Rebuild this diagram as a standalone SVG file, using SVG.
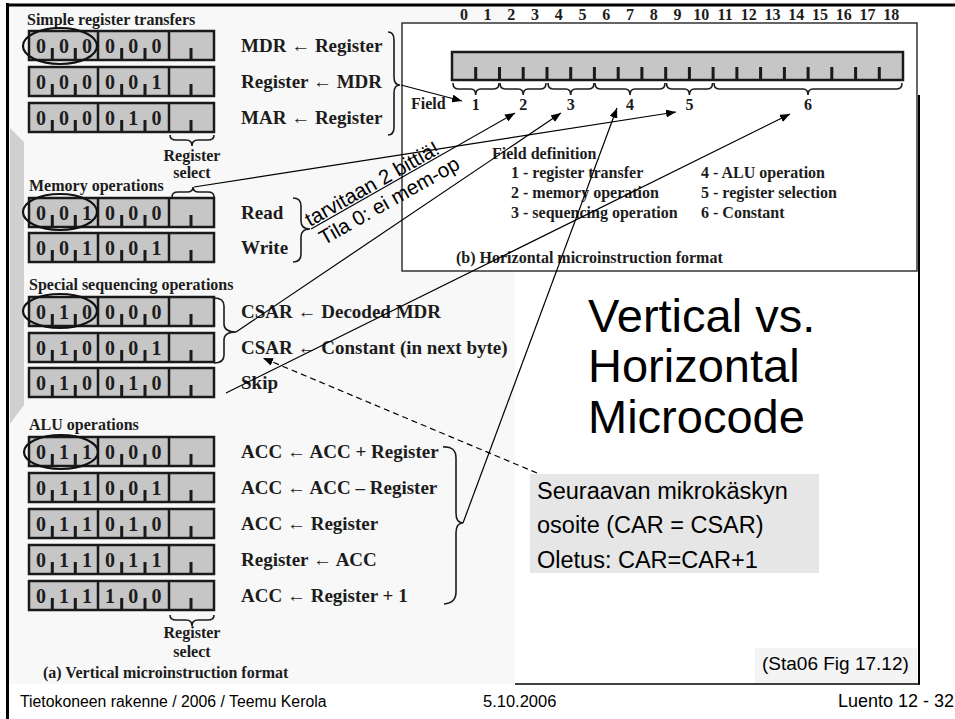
<svg xmlns="http://www.w3.org/2000/svg" width="955" height="719" viewBox="0 0 955 719">
<style>
.s{font-family:"Liberation Serif","Times New Roman",serif;font-weight:bold;fill:#1c1c1c}
.t{font-size:16px}
.d{font-size:20px;text-anchor:middle}
.l{font-size:19px}
.n{font-size:16px;text-anchor:middle}
.ss{font-family:"Liberation Sans",Arial,sans-serif;fill:#000}
.br{fill:none;stroke:#1c1c1c;stroke-width:1.6}
.el{fill:none;stroke:#111;stroke-width:2.2}
.cn{fill:none;stroke:#000;stroke-width:1.2}
</style>
<defs>
<marker id="ah" viewBox="0 0 10 8" refX="10" refY="4" markerWidth="10" markerHeight="8" markerUnits="userSpaceOnUse" orient="auto"><path d="M0,0 L10,4 L0,8 z" fill="#000"/></marker>
<g id="rf">
<rect x="29" y="0" width="185" height="29" fill="#c6c6c6" stroke="#1a1a1a" stroke-width="2.5"/>
<path d="M98,0V29M169,0V29" stroke="#1a1a1a" stroke-width="2.5"/>
<path d="M52.3,29V17M75.3,29V17M121.7,29V17M145,29V17M191,29V17" stroke="#1a1a1a" stroke-width="3"/>
</g>
</defs>
<rect width="955" height="719" fill="#fff"/>
<rect x="9" y="6" width="506" height="678" fill="#f8f8f8"/>
<polygon points="10,128 24,142 24,405 10,424" fill="#d0d0d0"/>
<rect x="755" y="648" width="162" height="35" fill="#f4f4f4"/>

<g id="frame" fill="none" stroke="#000">
<line x1="6" y1="5" x2="955" y2="5" stroke-width="3"/>
<line x1="7.5" y1="3" x2="7.5" y2="719" stroke-width="3"/>
<line x1="919" y1="95" x2="919" y2="684.5" stroke-width="2"/>
<line x1="515" y1="684" x2="920" y2="684" stroke-width="1.5"/>
</g>

<g id="horizontal-format">
<rect x="402" y="23" width="515" height="248" fill="#fff" stroke="#333" stroke-width="1.5"/>
<text class="s n" y="20" x="463.9 487.6 511.3 535.1 558.8 582.6 606.3 630.1 653.8">012345678</text>
<text class="s n" y="20" x="677.6">9</text>
<text class="s n" y="20" x="701.3">10</text>
<text class="s n" y="20" x="725.1">11</text>
<text class="s n" y="20" x="748.8">12</text>
<text class="s n" y="20" x="772.5">13</text>
<text class="s n" y="20" x="796.3">14</text>
<text class="s n" y="20" x="820">15</text>
<text class="s n" y="20" x="843.8">16</text>
<text class="s n" y="20" x="867.5">17</text>
<text class="s n" y="20" x="891.3">18</text>
<rect x="452" y="52" width="451" height="28" fill="#c6c6c6" stroke="#1a1a1a" stroke-width="2.5"/>
<path d="M475.7,80V67M499.5,80V67M523.2,80V67M547,80V67M570.7,80V67M594.4,80V67M618.2,80V67M641.9,80V67M665.7,80V67M689.4,80V67M713.1,80V67M736.9,80V67M760.6,80V67M784.4,80V67M808.1,80V67M831.8,80V67M855.6,80V67M879.3,80V67" stroke="#1a1a1a" stroke-width="3"/>
<path class="br" d="M453,83 Q453,89 458,89 L470.7,89 Q475.7,89 475.7,95 Q475.7,89 480.7,89 L494,89 Q499,89 499,83"/>
<path class="br" d="M500,83 Q500,89 505,89 L518.2,89 Q523.2,89 523.2,95 Q523.2,89 528.2,89 L541,89 Q546,89 546,83"/>
<path class="br" d="M548,83 Q548,89 553,89 L565.7,89 Q570.7,89 570.7,95 Q570.7,89 575.7,89 L589,89 Q594,89 594,83"/>
<path class="br" d="M595,83 Q595,89 600,89 L625,89 Q630,89 630,95 Q630,89 635,89 L660,89 Q665,89 665,83"/>
<path class="br" d="M666.5,83 Q666.5,89 671.5,89 L684.4,89 Q689.4,89 689.4,95 Q689.4,89 694.4,89 L707.5,89 Q712.5,89 712.5,83"/>
<path class="br" d="M714,83 Q714,89 719,89 L803,89 Q808,89 808,95 Q808,89 813,89 L897,89 Q902,89 902,83"/>
<text class="s t" x="411" y="109">Field</text>
<text class="s n" y="110" x="475.7 523.2 570.7 630 689.4 808">123456</text>
<text class="s t" x="492" y="159">Field definition</text>
<text class="s t" x="511" y="178">1 - register transfer</text>
<text class="s t" x="511" y="198">2 - memory operation</text>
<text class="s t" x="511" y="218">3 - sequencing operation</text>
<text class="s t" x="701" y="178">4 - ALU operation</text>
<text class="s t" x="701" y="198">5 - register selection</text>
<text class="s t" x="701" y="218">6 - Constant</text>
<text class="s t" x="456" y="263">(b) Horizontal microinstruction format</text>
</g>

<g id="simple-transfers">
<text class="s t" x="27" y="25">Simple register transfers</text>
<g transform="translate(0,31)"><use href="#rf"/><text class="s d" y="22" x="41 64 87 110 133.3 156.5">000000</text><text class="s l" x="241" y="21">MDR ← Register</text></g>
<g transform="translate(0,67)"><use href="#rf"/><text class="s d" y="22" x="41 64 87 110 133.3 156.5">000001</text><text class="s l" x="241" y="21">Register ← MDR</text></g>
<g transform="translate(0,103)"><use href="#rf"/><text class="s d" y="22" x="41 64 87 110 133.3 156.5">000010</text><text class="s l" x="241" y="21">MAR ← Register</text></g>
<ellipse class="el" cx="60" cy="46" rx="37" ry="18"/>
<path class="br" d="M388,32 Q394,32 394,40 L394,77 Q394,85 400,85 Q394,85 394,93 L394,127 Q394,135 388,135"/>
<path class="br" d="M170,135 Q170,140 176,140 L186,140 Q192,140 192,146 Q192,140 198,140 L208,140 Q214,140 214,135"/>
<text class="s t" x="192" y="161" text-anchor="middle">Register</text>
<text class="s t" x="192" y="178" text-anchor="middle">select</text>
</g>

<g id="memory-operations">
<text class="s t" x="29" y="191">Memory operations</text>
<path class="br" d="M172,197 Q172,192 178,192 L187,192 Q193,192 193,187 Q193,192 199,192 L208,192 Q214,192 214,197"/>
<g transform="translate(0,198)"><use href="#rf"/><text class="s d" y="22" x="41 64 87 110 133.3 156.5">001000</text><text class="s l" x="241" y="21">Read</text></g>
<g transform="translate(0,233)"><use href="#rf"/><text class="s d" y="22" x="41 64 87 110 133.3 156.5">001001</text><text class="s l" x="241" y="21">Write</text></g>
<ellipse class="el" cx="60" cy="212" rx="37" ry="18"/>
<path class="br" d="M293,198 Q301,198 301,206 L301,221 Q301,229 310,229 Q301,229 301,237 L301,254 Q301,262 293,262"/>
</g>

<g id="sequencing-operations">
<text class="s t" x="29" y="290">Special sequencing operations</text>
<g transform="translate(0,297)"><use href="#rf"/><text class="s d" y="22" x="41 64 87 110 133.3 156.5">010000</text><text class="s l" x="241" y="21">CSAR ← Decoded MDR</text></g>
<g transform="translate(0,333)"><use href="#rf"/><text class="s d" y="22" x="41 64 87 110 133.3 156.5">010001</text><text class="s l" x="241" y="21">CSAR ← Constant (in next byte)</text></g>
<g transform="translate(0,368)"><use href="#rf"/><text class="s d" y="22" x="41 64 87 110 133.3 156.5">010010</text><text class="s l" x="241" y="21">Skip</text></g>
<ellipse class="el" cx="60" cy="311" rx="37" ry="17"/>
<path class="br" d="M214,298 Q224,298 224,306 L224,324 Q224,332 236,332 Q224,332 224,340 L224,355 Q224,363 214,363"/>
</g>

<g id="alu-operations">
<text class="s t" x="29" y="430">ALU operations</text>
<g transform="translate(0,437)"><use href="#rf"/><text class="s d" y="22" x="41 64 87 110 133.3 156.5">011000</text><text class="s l" x="241" y="21">ACC ← ACC + Register</text></g>
<g transform="translate(0,473)"><use href="#rf"/><text class="s d" y="22" x="41 64 87 110 133.3 156.5">011001</text><text class="s l" x="241" y="21">ACC ← ACC – Register</text></g>
<g transform="translate(0,509)"><use href="#rf"/><text class="s d" y="22" x="41 64 87 110 133.3 156.5">011010</text><text class="s l" x="241" y="21">ACC ← Register</text></g>
<g transform="translate(0,545)"><use href="#rf"/><text class="s d" y="22" x="41 64 87 110 133.3 156.5">011011</text><text class="s l" x="241" y="21">Register ← ACC</text></g>
<g transform="translate(0,581)"><use href="#rf"/><text class="s d" y="22" x="41 64 87 110 133.3 156.5">011100</text><text class="s l" x="241" y="21">ACC ← Register + 1</text></g>
<ellipse class="el" cx="61" cy="452" rx="37" ry="17"/>
<path class="br" d="M443,447 Q456,446 456,458 L456,513 Q456,523 463,523 Q456,523 456,533 L456,592 Q456,603 444,604"/>
<path class="br" d="M170,615 Q170,620 176,620 L186,620 Q192,620 192,626 Q192,620 198,620 L208,620 Q214,620 214,615"/>
<text class="s t" x="192" y="638" text-anchor="middle">Register</text>
<text class="s t" x="192" y="657" text-anchor="middle">select</text>
<text class="s t" x="43" y="678">(a) Vertical microinstruction format</text>
</g>

<g id="connectors">
<line class="cn" x1="401" y1="85" x2="462" y2="101" marker-end="url(#ah)"/>
<line class="cn" x1="194" y1="187" x2="676" y2="112" marker-end="url(#ah)"/>
<line class="cn" x1="311" y1="229" x2="515" y2="113" marker-end="url(#ah)"/>
<line class="cn" x1="236" y1="332" x2="561" y2="113" marker-end="url(#ah)"/>
<line class="cn" x1="463" y1="523" x2="617" y2="108" marker-end="url(#ah)"/>
<line class="cn" x1="226" y1="393" x2="790" y2="114" marker-end="url(#ah)"/>
<line class="cn" x1="537" y1="473" x2="263" y2="358" stroke-dasharray="6 4" marker-end="url(#ah)"/>
</g>

<g id="note-bits" transform="translate(310,227) rotate(-29.5)">
<text class="ss" x="0" y="0" font-size="20.5">tarvitaan 2 bittiä!</text>
<text class="ss" x="3" y="23" font-size="20.5">Tila 0: ei mem-op</text>
</g>

<g id="title">
<text class="ss" x="588" y="332" font-size="47">Vertical vs.</text>
<text class="ss" x="588" y="382" font-size="47">Horizontal</text>
<text class="ss" x="588" y="433" font-size="47">Microcode</text>
</g>

<g id="note-car">
<rect x="530" y="474" width="289" height="99" fill="#e6e6e6"/>
<text class="ss" x="537" y="499" font-size="23.5">Seuraavan mikrokäskyn</text>
<text class="ss" x="537" y="533" font-size="23.5">osoite (CAR = CSAR)</text>
<text class="ss" x="537" y="568" font-size="23.5">Oletus: CAR=CAR+1</text>
</g>

<text class="ss" x="762" y="670" font-size="19">(Sta06 Fig 17.12)</text>
<g id="footer">
<text class="ss" x="20" y="707" font-size="15.8">Tietokoneen rakenne / 2006 / Teemu Kerola</text>
<text class="ss" x="483" y="707" font-size="16.5">5.10.2006</text>
<text class="ss" x="838" y="707" font-size="18">Luento 12 - 32</text>
</g>
</svg>
